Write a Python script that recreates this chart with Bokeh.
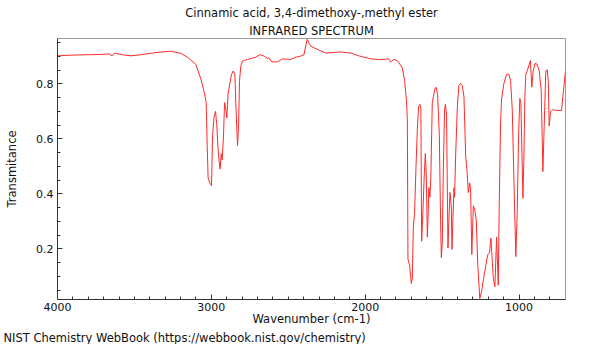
from bokeh.plotting import figure
from bokeh.models import Range1d, FixedTicker, Title
from bokeh.embed import file_html
from bokeh.resources import INLINE

title_line1 = "Cinnamic acid, 3,4-dimethoxy-,methyl ester"
title_line2 = "INFRARED SPECTRUM"
x_label = "Wavenumber (cm-1)"
y_label = "Transmitance"
source_note = "NIST Chemistry WebBook (https://webbook.nist.gov/chemistry)"

wavenumber = [
    3997, 3930, 3880, 3800, 3718, 3666, 3646, 3627, 3580, 3523, 3470, 3425, 3340, 3263, 3198,
    3150, 3101, 3068, 3047, 3034, 3027, 3021, 3010, 2999, 2992, 2982, 2973, 2964, 2958, 2949,
    2943, 2936, 2930, 2921, 2914, 2908, 2899, 2891, 2880, 2869, 2858, 2847, 2841, 2830, 2823,
    2817, 2808, 2797, 2765, 2711, 2683, 2657, 2635, 2625, 2609, 2570, 2538, 2484, 2451, 2419,
    2399, 2377, 2354, 2302, 2256, 2159, 2094, 2042, 1964, 1899, 1847, 1835, 1813, 1791, 1759,
    1744, 1732, 1726, 1722, 1711, 1700, 1694, 1687, 1679, 1670, 1661, 1653, 1644, 1638, 1633,
    1627, 1616, 1609, 1603, 1596, 1590, 1586, 1579, 1573, 1564, 1557, 1547, 1538, 1529, 1518,
    1510, 1505, 1499, 1492, 1484, 1478, 1471, 1462, 1456, 1449, 1440, 1436, 1430, 1423, 1419,
    1412, 1401, 1391, 1380, 1369, 1358, 1347, 1336, 1330, 1321, 1315, 1307, 1297, 1287, 1278,
    1268, 1255, 1244, 1224, 1203, 1192, 1183, 1177, 1168, 1157, 1146, 1135, 1129, 1120, 1114,
    1099, 1081, 1066, 1055, 1044, 1034, 1021, 1012, 1003, 995, 988, 979, 975, 969, 962,
    956, 947, 937, 926, 917, 908, 897, 882, 869, 856, 845, 834, 826, 817, 810,
    804, 795, 781, 752, 724, 713, 698,
]
transmittance = [
    0.902, 0.904, 0.905, 0.906, 0.907, 0.909, 0.902, 0.912, 0.906, 0.902, 0.905, 0.909, 0.915, 0.919, 0.911,
    0.895, 0.871, 0.818, 0.771, 0.735, 0.576, 0.458, 0.440, 0.430, 0.611, 0.682, 0.700, 0.647, 0.576, 0.517,
    0.490, 0.546, 0.523, 0.611, 0.732, 0.717, 0.676, 0.765, 0.800, 0.835, 0.847, 0.835, 0.729, 0.576, 0.647,
    0.812, 0.865, 0.883, 0.889, 0.897, 0.906, 0.901, 0.892, 0.895, 0.880, 0.880, 0.891, 0.889, 0.897, 0.901,
    0.905, 0.962, 0.937, 0.923, 0.912, 0.916, 0.912, 0.902, 0.891, 0.888, 0.891, 0.880, 0.889, 0.885, 0.859,
    0.812, 0.742, 0.671, 0.162, 0.139, 0.074, 0.091, 0.282, 0.328, 0.494, 0.636, 0.717, 0.725, 0.707, 0.228,
    0.304, 0.469, 0.547, 0.469, 0.243, 0.339, 0.423, 0.388, 0.469, 0.729, 0.753, 0.782, 0.788, 0.760, 0.611,
    0.304, 0.168, 0.221, 0.494, 0.707, 0.726, 0.682, 0.203, 0.304, 0.405, 0.352, 0.198, 0.304, 0.422, 0.388,
    0.540, 0.717, 0.794, 0.802, 0.794, 0.753, 0.540, 0.469, 0.405, 0.440, 0.422, 0.180, 0.357, 0.339, 0.304,
    0.139, 0.020, 0.044, 0.115, 0.180, 0.186, 0.239, 0.186, 0.097, 0.062, 0.243, 0.068, 0.352, 0.658, 0.741,
    0.800, 0.835, 0.835, 0.812, 0.706, 0.469, 0.172, 0.328, 0.611, 0.747, 0.729, 0.493, 0.384, 0.517, 0.753,
    0.835, 0.847, 0.865, 0.885, 0.788, 0.847, 0.874, 0.871, 0.847, 0.777, 0.481, 0.694, 0.847, 0.851, 0.812,
    0.647, 0.700, 0.706, 0.703, 0.703, 0.765, 0.847,
]

x_major_ticks = [4000, 3000, 2000, 1000]
x_minor_ticks = [3900, 3800, 3700, 3600, 3500, 3400, 3300, 3200, 3100,
                 2900, 2800, 2700, 2600, 2500, 2400, 2300, 2200, 2100,
                 1900, 1800, 1700, 1600, 1500, 1400, 1300, 1200, 1100,
                 900, 800]
y_major_ticks = [0.2, 0.4, 0.6, 0.8]
y_minor_ticks = [0.05, 0.1, 0.15, 0.25, 0.3, 0.35, 0.45, 0.5, 0.55,
                 0.65, 0.7, 0.75, 0.85, 0.9, 0.95]

FONT = "DejaVu Sans"
TXT = "#111111"

p = figure(width=584, height=344, output_backend="svg", toolbar_location=None,
           title=None,
           x_range=Range1d(4000, 698), y_range=Range1d(0.016, 0.965),
           min_border_left=57, min_border_right=19, min_border_top=38, min_border_bottom=0)

p.line(wavenumber, transmittance, line_color="#ff2a2a", line_width=1)

p.xgrid.visible = False
p.ygrid.visible = False
p.outline_line_color = "#999999"
p.background_fill_color = "white"
p.border_fill_color = "white"

p.xaxis.ticker = FixedTicker(ticks=x_major_ticks, minor_ticks=x_minor_ticks)
p.yaxis.ticker = FixedTicker(ticks=y_major_ticks, minor_ticks=y_minor_ticks)

for ax in (p.xaxis[0], p.yaxis[0]):
    ax.axis_line_color = "#333333"
    ax.major_tick_line_color = "#333333"
    ax.minor_tick_line_color = "#333333"
    ax.major_tick_in = 5
    ax.major_tick_out = 0
    ax.minor_tick_in = 3
    ax.minor_tick_out = 0
    ax.major_label_text_font = FONT
    ax.major_label_text_font_size = "11px"
    ax.major_label_text_color = TXT
    ax.axis_label_text_font = FONT
    ax.axis_label_text_font_size = "11.5px"
    ax.axis_label_text_font_style = "normal"
    ax.axis_label_text_color = TXT

p.xaxis.major_label_standoff = 3
p.yaxis.major_label_standoff = 4
p.xaxis.axis_label = x_label
p.xaxis.axis_label_standoff = -2
p.yaxis.axis_label = y_label
p.yaxis.axis_label_standoff = 14

# titles above: first added sits closest to the frame
p.add_layout(Title(text=title_line2, align="center", standoff=2, text_font=FONT,
                   text_font_size="11.5px", text_font_style="normal", text_color=TXT), "above")
p.add_layout(Title(text=title_line1, align="center", standoff=2, text_font=FONT,
                   text_font_size="11.5px", text_font_style="normal", text_color=TXT), "above")
p.add_layout(Title(text=source_note, align="left", offset=-54, standoff=0, text_font=FONT,
                   text_font_size="11.5px", text_font_style="normal", text_color=TXT), "below")

open("out.html", "w").write(file_html(p, INLINE))
